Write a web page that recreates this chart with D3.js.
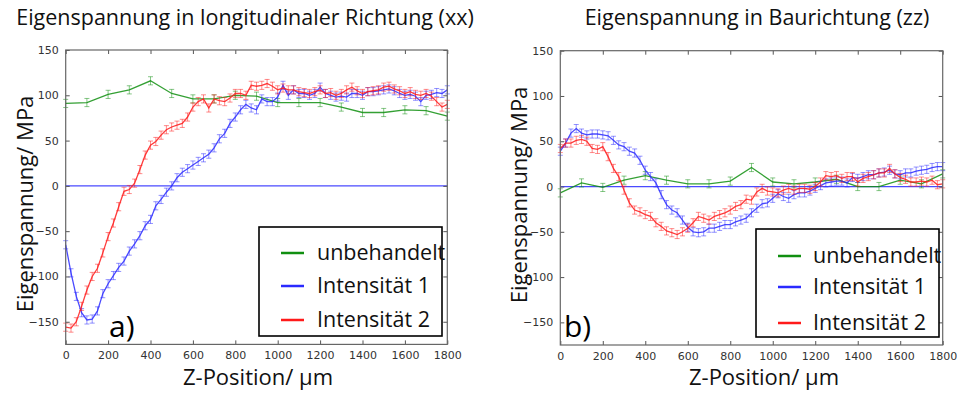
<!DOCTYPE html>
<html><head><meta charset="utf-8">
<script src="https://cdn.jsdelivr.net/npm/d3@7"></script>
<style>body{margin:0;background:#fff}svg{display:block}</style>
</head><body><svg id="c" width="957" height="394"></svg>
<script>
// ---------- data ----------
const seriesNames = ["unbehandelt", "Intensität 1", "Intensität 2"];
const xTicks = [0, 200, 400, 600, 800, 1000, 1200, 1400, 1600, 1800];
const yTicks = [-150, -100, -50, 0, 50, 100, 150];
const yTickLabels = ["\u2212150", "\u2212100", "\u221250", "0", "50", "100", "150"];
// coarse positions (unbehandelt), 100 µm steps
const posCoarse = [0,100,200,300,400,500,600,700,800,900,1000,1100,1200,1300,1400,1500,1600,1700,1800];
// dense positions (Intensität 1/2), 25 µm steps
const posDense = d3.range(0, 1801, 25);

// a) longitudinal (xx)
const xxUnbehandelt = [91,92,101,106,116,102,96,96,100,99,92,92,92,87,81,81,84,83,77];
const xxInt1 = [-65,-96,-122,-140,-148,-147,-138,-119,-108,-99,-90,-83,-72,-64,-55,-44,-37,-22,-15,-7,
  0,9,15,19,23,27,31,35,42,52,58,69,76,84,90,86,
  84,96,93,93,98,111,100,106,102,102,100,102,109,102,100,98,99,98,102,102,100,104,104,105,106,107,105,102,100,101,99,93,100,101,103,102,106];
const xxInt2 = [-156,-157,-150,-133,-115,-100,-91,-74,-56,-41,-23,-6,-4,3,18,34,45,49,56,62,65,67,69,76,87,93,96,86,96,94,93,97,102,102,100,111,
  110,111,113,110,106,108,106,106,104,103,102,104,106,102,103,100,102,106,109,105,102,104,105,106,109,110,107,105,102,104,101,100,102,99,93,87,90];

// b) build direction (zz)
const zzUnbehandelt = [-7,4,-1,7,12,7,3,3,6,21,5,3,5,8,0,0,7,3,14];
const zzInt1 = [39,48,59,64,59,57,58,58,57,56,51,46,44,39,37,29,18,11,4,-9,-20,-26,-29,-37,-45,-50,-51,-50,-46,-46,-44,-42,-42,-39,-37,-35,
  -29,-24,-19,-18,-13,-8,-11,-13,-9,-7,-7,-5,-2,1,4,5,6,6,4,10,9,11,13,13,15,16,18,14,13,15,15,17,18,19,21,22,22];
const zzInt2 = [42,48,48,51,52,50,42,41,44,33,20,11,-4,-18,-26,-28,-31,-33,-40,-44,-49,-51,-53,-50,-46,-40,-33,-35,-37,-33,-31,-29,-26,-22,-20,-14,
  -15,-6,-2,-5,-6,-7,-4,-2,-4,-2,-2,-3,0,5,12,11,12,9,11,11,5,9,11,13,15,15,20,14,10,8,5,5,6,5,7,2,3];

const errUnbehandelt = 4.5, errInt1 = 4.5, errInt2 = 4.5;
const colors = ["#108f10", "#2a2aff", "#ff1a1a"];

// ---------- drawing ----------
const svg = d3.select("#c");
const UIFONT = "'Open Sans', 'Noto Sans', sans-serif";
const TICKFONT = "'DejaVu Sans', sans-serif";

function panel(cfg) {
  const x = d3.scaleLinear().domain([0, 1800]).range([cfg.x0, cfg.x1]);
  const y = d3.scaleLinear().domain([-175, 150]).range([cfg.y0, cfg.y1]);
  const g = svg.append("g");

  // zero line
  g.append("line").attr("x1", x(0)).attr("x2", x(1800)).attr("y1", y(0)).attr("y2", y(0))
    .attr("stroke", "#4a4aff").attr("stroke-width", 1.2);

  const series = [
    {pos: posCoarse, val: cfg.u, err: errUnbehandelt, c: colors[0]},
    {pos: posDense, val: cfg.i1, err: errInt1, c: colors[1]},
    {pos: posDense, val: cfg.i2, err: errInt2, c: colors[2]}
  ];
  const line = d3.line().x(d => x(d[0])).y(d => y(d[1]));
  series.forEach(s => {
    const pts = s.pos.map((p, i) => [p, s.val[i]]);
    const eg = g.append("g").attr("stroke", s.c).attr("stroke-opacity", 0.5).attr("stroke-width", 1);
    pts.forEach(p => {
      const xx = x(p[0]), yt = y(p[1] + s.err), yb = y(p[1] - s.err);
      eg.append("line").attr("x1", xx).attr("x2", xx).attr("y1", yt).attr("y2", yb);
      eg.append("line").attr("x1", xx - 2.5).attr("x2", xx + 2.5).attr("y1", yt).attr("y2", yt);
      eg.append("line").attr("x1", xx - 2.5).attr("x2", xx + 2.5).attr("y1", yb).attr("y2", yb);
    });
    g.append("path").datum(pts).attr("d", line).attr("fill", "none")
      .attr("stroke", s.c).attr("stroke-width", 1.3).attr("stroke-opacity", 0.85);
  });

  // axes (ticks inward on all sides)
  const fmt = d3.format("d");
  const axB = g.append("g").attr("transform", `translate(0,${cfg.y0})`)
    .call(d3.axisBottom(x).tickValues(xTicks).tickFormat(fmt).tickSizeInner(-4).tickSizeOuter(0).tickPadding(7));
  const axL = g.append("g").attr("transform", `translate(${cfg.x0},0)`)
    .call(d3.axisLeft(y).tickValues(yTicks).tickFormat((d, i) => yTickLabels[i]).tickSizeInner(-4).tickSizeOuter(0).tickPadding(7));
  const axT = g.append("g").attr("transform", `translate(0,${cfg.y1})`)
    .call(d3.axisTop(x).tickValues(xTicks).tickSizeInner(-4).tickSizeOuter(0).tickFormat(""));
  const axR = g.append("g").attr("transform", `translate(${cfg.x1},0)`)
    .call(d3.axisRight(y).tickValues(yTicks).tickSizeInner(-4).tickSizeOuter(0).tickFormat(""));
  [axB, axL, axT, axR].forEach(a => {
    a.select(".domain").remove();
    a.selectAll("line").attr("stroke", "#555");
    a.selectAll("text").attr("font-family", TICKFONT).attr("font-size", 11).attr("fill", "#333");
  });
  g.append("rect").attr("x", cfg.x0).attr("y", cfg.y1).attr("width", cfg.x1 - cfg.x0).attr("height", cfg.y0 - cfg.y1)
    .attr("fill", "none").attr("stroke", "#666").attr("stroke-width", 1.2);

  // titles & labels
  svg.append("text").attr("x", cfg.titleX).attr("y", 25).attr("text-anchor", "middle")
    .attr("font-family", UIFONT).attr("font-size", 21.5).attr("fill", "#111").text(cfg.title);
  svg.append("text").attr("transform", `translate(${cfg.ylabX},${cfg.ylabY}) rotate(-90)`)
    .attr("text-anchor", "middle").attr("font-family", UIFONT).attr("font-size", 22).attr("fill", "#111")
    .text("Eigenspannung/ MPa");
  svg.append("text").attr("x", cfg.xlabX).attr("y", 385).attr("text-anchor", "middle")
    .attr("font-family", UIFONT).attr("font-size", 22).attr("fill", "#111").text("Z-Position/ µm");
  svg.append("text").attr("x", cfg.tagX).attr("y", 337).attr("font-family", UIFONT)
    .attr("font-size", 30).attr("fill", "#000").text(cfg.tag);

  // legend
  const L = cfg.leg;
  svg.append("rect").attr("x", L.x).attr("y", L.y).attr("width", L.w).attr("height", L.h)
    .attr("fill", "#fff").attr("stroke", "#000").attr("stroke-width", 1.6);
  seriesNames.forEach((n, i) => {
    const yy = L.rows[i];
    svg.append("line").attr("x1", L.lx).attr("x2", L.lx + 23).attr("y1", yy).attr("y2", yy)
      .attr("stroke", colors[i]).attr("stroke-width", 2.5);
    svg.append("text").attr("x", L.tx).attr("y", yy + 7).attr("font-family", UIFONT)
      .attr("font-size", 21.5).attr("fill", "#111").text(n);
  });
}

panel({x0: 65.7, x1: 447.3, y0: 344.4, y1: 50, u: xxUnbehandelt, i1: xxInt1, i2: xxInt2,
  title: "Eigenspannung in longitudinaler Richtung (xx)", titleX: 245, ylabX: 33, ylabY: 204, xlabX: 258,
  tag: "a)", tagX: 109,
  leg: {x: 259, y: 227, w: 183, h: 109, lx: 281, tx: 317, rows: [253, 286, 320]}});
panel({x0: 560.3, x1: 942.7, y0: 345, y1: 50.7, u: zzUnbehandelt, i1: zzInt1, i2: zzInt2,
  title: "Eigenspannung in Baurichtung (zz)", titleX: 757, ylabX: 527, ylabY: 195, xlabX: 764,
  tag: "b)", tagX: 564,
  leg: {x: 756, y: 229, w: 183, h: 108, lx: 778, tx: 813, rows: [256, 287, 323]}});
</script></body></html>
